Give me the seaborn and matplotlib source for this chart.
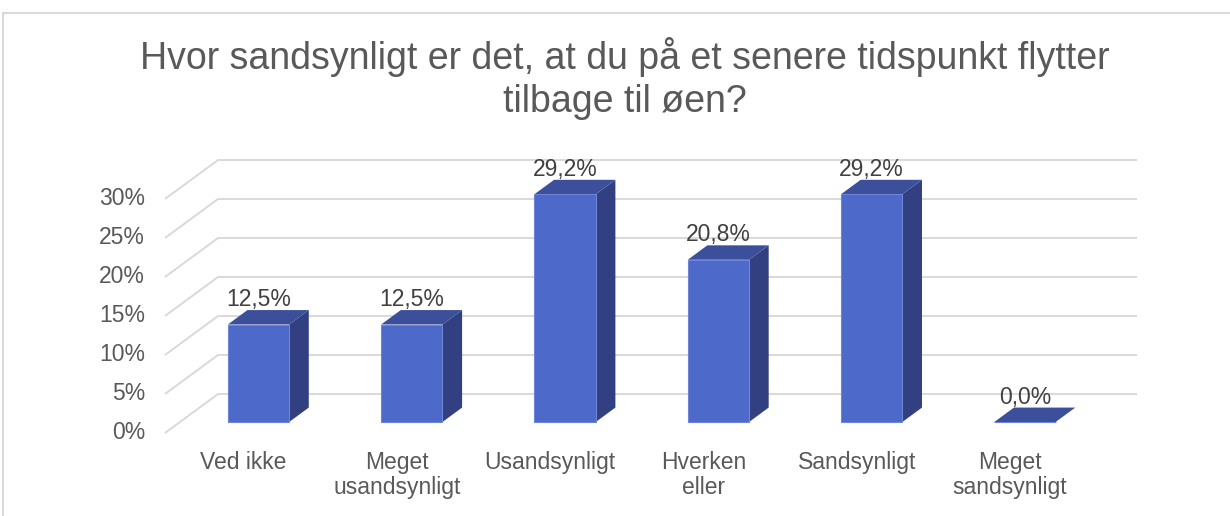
import matplotlib
matplotlib.use("Agg")
import matplotlib.pyplot as plt
import seaborn as sns
import pandas as pd
from matplotlib.patches import Polygon
from matplotlib.lines import Line2D

# data
categories = ["Ved ikke", "Meget\nusandsynligt", "Usandsynligt", "Hverken\neller", "Sandsynligt", "Meget\nsandsynligt"]
values = [12.5, 12.5, 29.2, 20.8, 29.2, 0.0]
value_labels = ["12,5%", "12,5%", "29,2%", "20,8%", "29,2%", "0,0%"]
yticks = [0, 5, 10, 15, 20, 25, 30]
ytick_labels = ["0%", "5%", "10%", "15%", "20%", "25%", "30%"]
title = "Hvor sandsynligt er det, at du på et senere tidspunkt flytter\ntilbage til øen?"

FRONT = "#4D69C9"
SIDE = "#324082"
TOP = "#3B4F9B"
EDGE = "#6F86D8"
GRID = "#D9D9D9"
TXT = "#595959"

# fake 3d: depth vector of the plot box, in data units (categories, percent)
DX, DY = 0.346, 5.0
F0 = 0.282   # bar front plane position inside the depth
BD = 0.37    # bar depth as share of the box depth

sns.set_theme(style="white")
plt.rcParams["font.family"] = ["Liberation Sans", "DejaVu Sans"]

fig = plt.figure(figsize=(12.3, 5.16), dpi=100)
ax = fig.add_axes([0, 0, 1, 1])

df = pd.DataFrame({"cat": categories, "val": values})
sns.barplot(data=df, x="cat", y="val", color=FRONT, saturation=1, width=0.4,
            edgecolor=EDGE, linewidth=0.8, ax=ax, zorder=4)

bx, by = BD * DX, BD * DY
for p in ax.patches:
    x0 = p.get_x()
    x1 = x0 + p.get_width()
    v = p.get_height()
    side = Polygon([(x1, 0), (x1, v), (x1 + bx, v + by), (x1 + bx, by)],
                   closed=True, facecolor=SIDE, edgecolor="none", zorder=3)
    top = Polygon([(x0, v), (x1, v), (x1 + bx, v + by), (x0 + bx, v + by)],
                  closed=True, facecolor=TOP, edgecolor="none", zorder=3.5)
    ax.add_patch(side)
    ax.add_patch(top)

# walls / gridlines
fx0 = -0.610
fy0 = -F0 * DY
xr = 5.731
for t, lab in zip(yticks, ytick_labels):
    ax.plot([fx0, fx0 + DX, xr], [t + fy0, t + fy0 + DY, t + fy0 + DY],
            color=GRID, lw=1.4, zorder=1, solid_capstyle="butt")
    ax.text(fx0 - 0.13, t + fy0, lab, ha="right", va="center",
            fontsize=16.5, color=TXT)

for i, cat in enumerate(categories):
    ax.text(i - F0 * DX, -3.72, cat, ha="center", va="top", fontsize=16.5,
            color=TXT, linespacing=1.1)

for i, (v, lab) in enumerate(zip(values, value_labels)):
    ax.text(i, v + 3.2, lab, ha="center", va="center", fontsize=16.5,
            color="#404040", zorder=6)

ax.set_xlim(-258.5 / 153.3, (1230 - 258.5) / 153.3)
ax.set_ylim((422 - 516) / 7.8, 422 / 7.8)
ax.set_axis_off()

fig.text(0.508, 0.847, title, ha="center", va="center", fontsize=27,
         color=TXT, linespacing=1.25)

# chart area border
fig.add_artist(Line2D([3 / 1230, 1], [1 - 13 / 516, 1 - 13 / 516], color=GRID, lw=1.5))
fig.add_artist(Line2D([3 / 1230, 3 / 1230], [0, 1 - 13 / 516], color=GRID, lw=1.5))

fig.savefig("out.png", dpi=100)
